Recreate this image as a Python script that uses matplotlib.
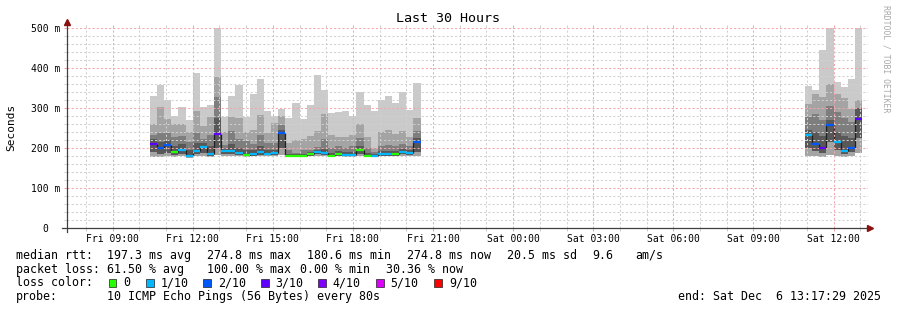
import numpy as np
import pandas as pd
import matplotlib
matplotlib.use('Agg')
import matplotlib.pyplot as plt
import matplotlib.dates as mdates
from matplotlib.lines import Line2D
from matplotlib.patches import Rectangle
from matplotlib.ticker import MultipleLocator, FuncFormatter

W, H = 897, 310
MONO = 'DejaVu Sans Mono'

# ---- data: smokeping 16 minute bins, values in ms ----
seg_start = ['2025-12-05 10:24', '2025-12-06 10:56']
seg_bins = [38, 8]

rtt_max = [330, 357, 320, 281, 302, 270, 387, 302, 307, 500,
           278, 330, 357, 278, 335, 372, 293, 280, 297, 274,
           312, 272, 307, 382, 345, 287, 291, 293, 280, 341,
           307, 293, 320, 330, 312, 341, 295, 363,
           356, 345, 445, 500, 366, 353, 372, 500]
rtt_hi = [260, 302, 272, 259, 259, 239, 292, 255, 278, 378,
          241, 278, 274, 241, 245, 282, 238, 262, 280, 213,
          220, 222, 230, 242, 285, 232, 227, 227, 232, 259,
          228, 199, 241, 245, 235, 243, 228, 274,
          310, 335, 328, 360, 335, 324, 297, 320]
rtt_mid = [232, 237, 237, 228, 230, 215, 237, 222, 232, 327,
           207, 242, 222, 218, 210, 232, 212, 212, 257, 195,
           188, 195, 195, 202, 222, 200, 205, 200, 205, 224,
           200, 190, 205, 208, 205, 210, 205, 243,
           277, 285, 270, 305, 291, 274, 266, 299]
rtt_q = [222, 215, 220, 205, 210, 195, 212, 212, 205, 274,
         198, 210, 200, 195, 195, 205, 195, 196, 245, 186,
         184, 185, 190, 196, 198, 188, 192, 190, 190, 205,
         188, 185, 192, 193, 192, 198, 195, 225,
         245, 240, 230, 270, 240, 230, 225, 299]
rtt_med = [211, 199, 207, 190, 195, 180, 192, 202, 186, 234,
           192, 192, 187, 183, 185, 189, 186, 188, 238, 180,
           180, 180, 185, 191, 188, 180, 185, 182, 182, 195,
           180, 181, 185, 185, 185, 191, 188, 214,
           233, 210, 201, 257, 215, 192, 201, 273]
rtt_low = [190, 186, 188, 182, 184, 178, 184, 188, 181, 200,
           184, 185, 182, 180, 181, 183, 182, 183, 200, 179,
           179, 179, 181, 184, 183, 179, 181, 180, 180, 184,
           179, 180, 181, 181, 181, 184, 183, 190,
           200, 192, 188, 215, 195, 185, 190, 224]
rtt_min = [178, 178, 180, 178, 179, 176, 179, 180, 178, 182,
           180, 180, 179, 178, 179, 179, 179, 180, 182, 178,
           178, 178, 179, 180, 180, 178, 179, 178, 178, 180,
           178, 178, 179, 179, 179, 180, 180, 181,
           180, 180, 178, 182, 180, 178, 180, 188]
loss = [3, 2, 2, 0, 1, 1, 1, 1, 1, 3,
        1, 1, 1, 0, 1, 1, 1, 1, 2, 0,
        0, 0, 0, 1, 1, 0, 0, 1, 1, 0,
        0, 1, 1, 1, 0, 1, 1, 2,
        1, 2, 3, 2, 1, 1, 2, 3]

loss_labels = ['0', '1/10', '2/10', '3/10', '4/10', '5/10', '9/10']
loss_colors = ['#26ff00', '#00b8ff', '#0059ff', '#5e00ff', '#7e00ff', '#dd00ff', '#ff0000']
loss_color_by_count = {0: '#26ff00', 1: '#00b8ff', 2: '#0059ff', 3: '#5e00ff',
                       4: '#7e00ff', 5: '#dd00ff', 9: '#ff0000'}

t_start = pd.Timestamp('2025-12-05 07:17:29')
t_end = pd.Timestamp('2025-12-06 13:17:29')


def px(x, y):
    return x / W, 1 - y / H


fig = plt.figure(figsize=(W / 100, H / 100), dpi=100)
fig.patch.set_facecolor('white')
ax = fig.add_axes([67 / W, (H - 228) / H, (868 - 67) / W, 200 / H])

times = []
for s, n in zip(seg_start, seg_bins):
    times.extend(pd.date_range(s, periods=n, freq='16min'))
t = mdates.date2num(pd.DatetimeIndex(times).to_pydatetime())
bw = 16 / 1440.0

mx = np.array(rtt_max, float)
hi = np.array(rtt_hi, float)
mid = np.array(rtt_mid, float)
q = np.array(rtt_q, float)
med = np.array(rtt_med, float)
low = np.array(rtt_low, float)
mn = np.array(rtt_min, float)

# smoke
ax.bar(t, mx - mn, bottom=mn, width=bw, align='edge', color='#cacaca', lw=0, zorder=1)
ax.bar(t, hi - mn, bottom=mn, width=bw, align='edge', color='#a4a4a4', lw=0, zorder=1)
ax.bar(t, mid - low, bottom=low, width=bw, align='edge', color='#7e7e7e', lw=0, zorder=1)
ax.bar(t, q - low, bottom=low, width=bw, align='edge', color='#585858', lw=0, zorder=1)

# median steps
idx = 0
for n in seg_bins:
    for i in range(idx, idx + n - 1):
        ax.vlines(t[i] + bw, med[i], med[i + 1], color='#202020', lw=0.9, zorder=2)
    idx += n
for i in range(len(t)):
    ax.hlines(med[i], t[i], t[i] + bw, color=loss_color_by_count[loss[i]], lw=1.6, zorder=3)

ax.set_xlim(mdates.date2num(t_start), mdates.date2num(t_end))
ax.set_ylim(0, 500)
ax.xaxis.set_major_locator(mdates.HourLocator(byhour=range(0, 24, 3)))
ax.xaxis.set_minor_locator(mdates.HourLocator())
ax.xaxis.set_major_formatter(mdates.DateFormatter('%a %H:%M'))
ax.yaxis.set_major_locator(MultipleLocator(100))
ax.yaxis.set_minor_locator(MultipleLocator(20))
ax.yaxis.set_major_formatter(FuncFormatter(lambda v, p: '0  ' if v == 0 else f'{int(v)} m'))

ax.set_axisbelow(False)
ax.grid(which='minor', color='#d0d0d0', ls=(0, (2, 2)), lw=0.75)
ax.grid(which='major', color='#f2a8a8', ls=(0, (2, 2)), lw=0.75)
for s in ax.spines.values():
    s.set_visible(False)
ax.tick_params(which='both', direction='out', length=2.5, width=0.75, top=True)
ax.tick_params(which='major', color='#f2a8a8', labelsize=7, pad=2)
ax.tick_params(which='minor', color='#d0d0d0')
for lab in ax.get_xticklabels() + ax.get_yticklabels():
    lab.set_fontfamily(MONO)

# axis lines and arrows
fig.add_artist(Line2D([px(62, 0)[0], px(869, 0)[0]], [px(0, 228)[1]] * 2, color='#404040', lw=0.9))
fig.add_artist(Line2D([px(67, 0)[0]] * 2, [px(0, 232)[1], px(0, 24)[1]], color='#404040', lw=0.9))
fig.add_artist(Line2D([px(870, 0)[0]], [px(0, 228)[1]], marker='>', ms=4, color='#8b1010', lw=0))
fig.add_artist(Line2D([px(67, 0)[0]], [px(0, 22)[1]], marker='^', ms=4, color='#8b1010', lw=0))

# texts
fig.text(*px(448, 19), 'Last 30 Hours', family=MONO, fontsize=9.6, ha='center', va='center')
fig.text(*px(11, 127), 'Seconds', family=MONO, fontsize=8, rotation=90, ha='center', va='center')
fig.text(*px(886, 5), 'RRDTOOL / TOBI OETIKER', family=MONO, fontsize=5.9, rotation=270,
         ha='center', va='top', color='#a8a8a8')

fs = 8.4
rows = [259, 272.7, 286.4, 300]
row1 = [(16, 'median rtt:'), (107, '197.3 ms avg'), (207, '274.8 ms max'), (307, '180.6 ms min'),
        (407, '274.8 ms now'), (507, '20.5 ms sd'), (592, '9.6'), (635, 'am/s')]
row2 = [(16, 'packet loss:'), (107, '61.50 % avg'), (207, '100.00 % max'), (300, '0.00 % min'),
        (386, '30.36 % now')]
for x, s in row1:
    fig.text(*px(x, rows[0]), s, family=MONO, fontsize=fs, va='baseline')
for x, s in row2:
    fig.text(*px(x, rows[1]), s, family=MONO, fontsize=fs, va='baseline')
fig.text(*px(16, rows[2]), 'loss color:', family=MONO, fontsize=fs, va='baseline')
box_x = [108.5, 146, 203.3, 261, 318.3, 376, 434.3]
for bx, lab, col in zip(box_x, loss_labels, loss_colors):
    x0, y0 = px(bx, 286.7)
    fig.add_artist(Rectangle((x0, y0), 7.5 / W, 7.5 / H, facecolor=col, edgecolor='#202020', lw=0.5))
    fig.text(*px(bx + 14.5, rows[2]), lab, family=MONO, fontsize=fs, va='baseline')
fig.text(*px(16, rows[3]), 'probe:', family=MONO, fontsize=fs, va='baseline')
fig.text(*px(107, rows[3]), '10 ICMP Echo Pings (56 Bytes) every 80s', family=MONO, fontsize=fs, va='baseline')
fig.text(*px(881, rows[3]), 'end: Sat Dec  6 13:17:29 2025', family=MONO, fontsize=fs,
         va='baseline', ha='right')

fig.savefig('out.png', dpi=100, facecolor='white')
